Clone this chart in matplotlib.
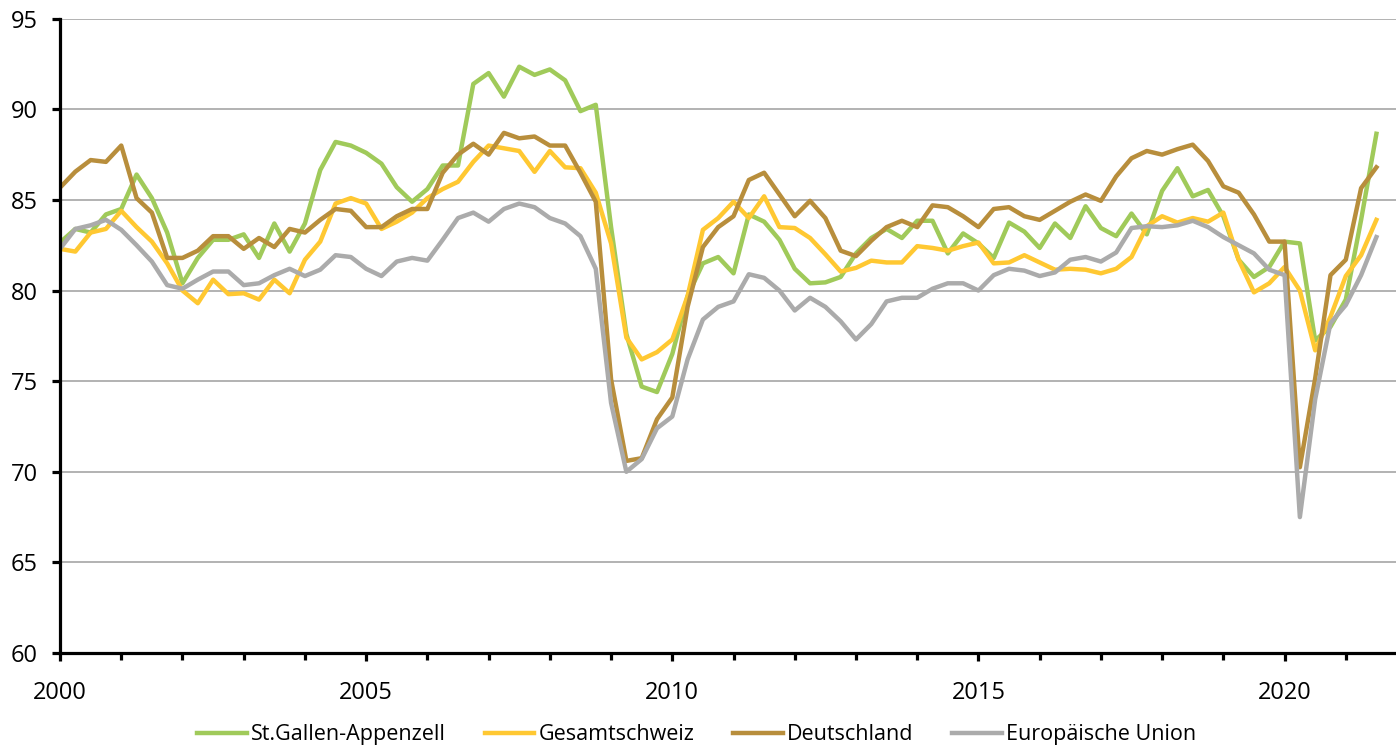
import numpy as np
import matplotlib
matplotlib.use('Agg')
import matplotlib.pyplot as plt
from matplotlib.ticker import MultipleLocator

plt.rcParams['font.family'] = ['Open Sans', 'DejaVu Sans']

# quarterly index values, 2000 Q1 .. 2021 Q3
stgallen = [82.65, 83.4, 83.2, 84.2, 84.5, 86.4, 85.1, 83.2, 80.4, 81.8,
            82.8, 82.8, 83.1, 81.8, 83.7, 82.15, 83.7, 86.65, 88.2, 88.0,
            87.6, 87.0, 85.7, 84.9, 85.6, 86.9, 86.9, 91.4, 92.0, 90.7,
            92.35, 91.9, 92.2, 91.6, 89.9, 90.25, 83.5, 77.6, 74.7, 74.4,
            76.5, 79.7, 81.5, 81.85, 80.95, 84.2, 83.8, 82.8, 81.2, 80.4,
            80.45, 80.75, 82.05, 82.9, 83.4, 82.9, 83.85, 83.85, 82.05, 83.15,
            82.6, 81.8, 83.75, 83.25, 82.35, 83.7, 82.9, 84.65, 83.45, 83.0,
            84.25, 83.1, 85.5, 86.75, 85.2, 85.55, 84.1, 81.7, 80.75, 81.3,
            82.7, 82.6, 77.25, 78.0, 79.5, 83.9, 88.65]
schweiz = [82.3, 82.15, 83.2, 83.4, 84.4, 83.5, 82.7, 81.5, 80.0, 79.3,
           80.6, 79.8, 79.85, 79.5, 80.6, 79.85, 81.7, 82.7, 84.8, 85.1,
           84.8, 83.4, 83.8, 84.3, 85.1, 85.6, 86.0, 87.1, 88.0, 87.85,
           87.7, 86.55, 87.7, 86.8, 86.75, 85.4, 82.6, 77.4, 76.2, 76.6,
           77.3, 79.7, 83.35, 84.0, 84.9, 84.0, 85.2, 83.5, 83.45, 82.9,
           82.0, 81.05, 81.25, 81.65, 81.55, 81.55, 82.45, 82.35, 82.2, 82.45,
           82.65, 81.5, 81.55, 81.95, 81.55, 81.15, 81.2, 81.15, 80.95, 81.2,
           81.85, 83.55, 84.1, 83.75, 84.0, 83.8, 84.3, 81.7, 79.9, 80.4,
           81.3, 80.0, 76.7, 78.55, 80.8, 81.95, 83.9]
deutschland = [85.68, 86.56, 87.2, 87.1, 88.0, 85.1, 84.3, 81.8, 81.8, 82.2,
               83.0, 83.0, 82.3, 82.9, 82.4, 83.4, 83.2, 83.9, 84.5, 84.4,
               83.5, 83.5, 84.1, 84.5, 84.5, 86.5, 87.5, 88.1, 87.5, 88.7,
               88.4, 88.5, 88.0, 88.0, 86.5, 84.9, 75.1, 70.6, 70.75, 72.9,
               74.1, 79.1, 82.4, 83.5, 84.1, 86.1, 86.5, 85.3, 84.1, 84.95,
               84.0, 82.2, 81.9, 82.75, 83.5, 83.85, 83.5, 84.7, 84.6, 84.1,
               83.5, 84.5, 84.6, 84.1, 83.9, 84.4, 84.9, 85.3, 84.95, 86.3,
               87.3, 87.7, 87.5, 87.8, 88.05, 87.15, 85.75, 85.4, 84.2, 82.7,
               82.7, 70.25, 75.15, 80.85, 81.7, 85.65, 86.8]
eu = [82.3, 83.4, 83.6, 83.9, 83.35, 82.5, 81.6, 80.3, 80.1, 80.6,
      81.05, 81.05, 80.3, 80.4, 80.85, 81.2, 80.8, 81.15, 81.95, 81.85,
      81.2, 80.8, 81.6, 81.8, 81.65, 82.8, 84.0, 84.3, 83.8, 84.5,
      84.8, 84.6, 84.0, 83.7, 83.0, 81.2, 73.8, 70.0, 70.7, 72.4,
      73.05, 76.2, 78.4, 79.1, 79.4, 80.9, 80.7, 80.0, 78.9, 79.6,
      79.1, 78.3, 77.3, 78.15, 79.4, 79.6, 79.6, 80.1, 80.4, 80.4,
      80.0, 80.85, 81.2, 81.1, 80.8, 81.0, 81.7, 81.85, 81.6, 82.1,
      83.45, 83.55, 83.5, 83.6, 83.85, 83.5, 82.95, 82.5, 82.05, 81.15,
      80.85, 67.5, 74.0, 78.2, 79.2, 80.85, 82.95]

labels = ['St.Gallen-Appenzell', 'Gesamtschweiz', 'Deutschland', 'Europäische Union']
colors = ['#A0CA5A', '#FFC832', '#B88E3C', '#ABABAB']

x = 2000 + np.arange(len(stgallen)) / 4

fig = plt.figure(figsize=(13.96, 7.48), dpi=100)
ax = fig.add_axes([0.043, 0.127, 0.957, 0.848])

for series, lab, col in zip([stgallen, schweiz, deutschland, eu], labels, colors):
    ax.plot(x, series, color=col, lw=3.2, label=lab, solid_joinstyle='round')

ax.set_xlim(2000, 2021.82)
ax.set_ylim(60, 95)
ax.yaxis.set_major_locator(MultipleLocator(5))
ax.xaxis.set_major_locator(MultipleLocator(5))
ax.xaxis.set_minor_locator(MultipleLocator(1))
ax.grid(axis='y', color='#A6A6A6', lw=1.2)
ax.set_axisbelow(True)

for s in ['top', 'right']:
    ax.spines[s].set_visible(False)
for s in ['left', 'bottom']:
    ax.spines[s].set_linewidth(2.3)
    ax.spines[s].set_color('black')

ax.tick_params(axis='y', length=6, width=2.3, pad=10, labelsize=17)
ax.tick_params(axis='x', which='major', length=6, width=2.3, pad=14, labelsize=17)
ax.tick_params(axis='x', which='minor', length=5, width=2.3)

fig.legend(loc='lower center', bbox_to_anchor=(0.499, -0.022), ncol=4, frameon=False,
           fontsize=15.5, handlelength=2.3, handletextpad=0.2, columnspacing=1.8)

fig.savefig('out.png', dpi=100)
